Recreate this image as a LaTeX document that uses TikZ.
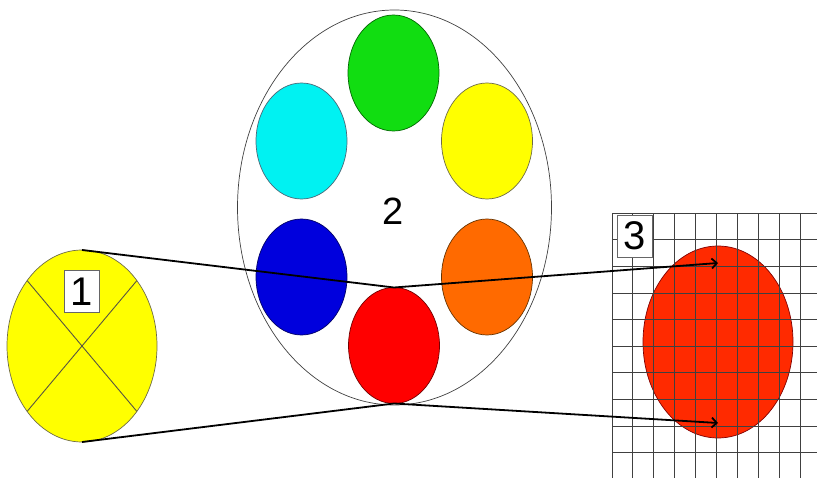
\documentclass[tikz,border=0pt]{standalone}
\usepackage{fontspec}
\setmainfont{Liberation Sans}
\usetikzlibrary{shapes.geometric,arrows.meta}
\definecolor{cyel}{HTML}{FFFF00}
\definecolor{cgreen}{HTML}{11DD11}
\definecolor{ccyan}{HTML}{00F2F2}
\definecolor{cblue}{HTML}{0000DD}
\definecolor{corange}{HTML}{FF6A00}
\definecolor{cred}{HTML}{FF0000}
\definecolor{cred3}{HTML}{FF2A00}
\tikzset{
  blob/.style={ellipse, inner sep=0pt, outer sep=0pt, minimum width=91pt, minimum height=116pt, line width=0.7pt},
  numbox/.style={draw=black!60, fill=white, line width=0.7pt, inner sep=0pt, minimum width=35pt, minimum height=42pt, font=\fontsize{40}{40}\selectfont},
  ray/.style={line width=1.8pt, black},
  gridline/.style={draw=black!75, line width=0.9pt}
}
\begin{document}
\begin{tikzpicture}[x=1pt,y=-1pt]
\useasboundingbox (0,0) rectangle (817,478);
% panel 2 : wheel
\node[ellipse, draw=black!75, line width=0.7pt, inner sep=0pt, outer sep=0pt, minimum width=314pt, minimum height=395pt] (wheel) at (394.5,207.5) {};
\node[blob, fill=cgreen, draw=green!40!black] (green) at (393.5,73) {};
\node[blob, fill=ccyan, draw=cyan!40!black] (cyan) at (301.5,141) {};
\node[blob, fill=cyel, draw=yellow!35!black] (yellow) at (487,141) {};
\node[blob, fill=cblue, draw=blue!40!black] (blue) at (301.5,277) {};
\node[blob, fill=corange, draw=orange!40!black] (orange) at (487,277) {};
\node[blob, fill=cred, draw=red!45!black] (red) at (394,345.5) {};
\node[font=\fontsize{38}{38}\selectfont] (two) at (393,211) {2};
% panel 1
\node[ellipse, fill=cyel, draw=yellow!35!black, line width=0.7pt, inner sep=0pt, outer sep=0pt, minimum width=150pt, minimum height=192pt] (src) at (82,346) {};
\draw[line width=0.9pt, draw=yellow!25!black] (src.130) -- (src.-50);
\draw[line width=0.9pt, draw=yellow!25!black] (src.50) -- (src.230);
\node[numbox] (one) at (82,291.5) {1};
% panel 3
\node[ellipse, fill=cred3, draw=red!50!black, line width=0.7pt, inner sep=0pt, outer sep=0pt, minimum width=150pt, minimum height=192pt] (img) at (718,342) {};
\foreach \i in {0,...,9} {
  \draw[gridline] ({612+20.9*\i},213.3) -- ({612+20.9*\i},478);
  \draw[gridline] (612,{213.3+26.6*\i}) -- (817,{213.3+26.6*\i});
}
\node[numbox] (three) at (634.5,236) {3};
% rays
\coordinate (tipA) at (718,263);
\coordinate (tipB) at (718,423);
\draw[ray, -{Straight Barb[length=5pt,width=10pt]}] (src.north) -- (red.north) -- (tipA);
\draw[ray, -{Straight Barb[length=5pt,width=10pt]}] (src.south) -- (red.south) -- (tipB);
\end{tikzpicture}
\end{document}
